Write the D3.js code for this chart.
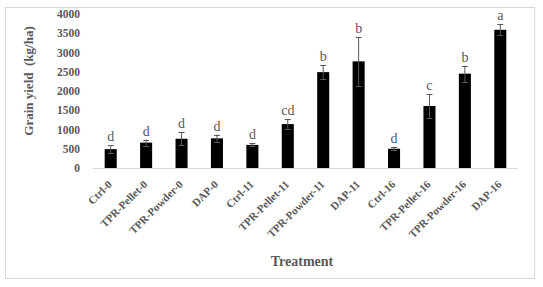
<!DOCTYPE html>
<html>
<head>
<meta charset="utf-8">
<script src="https://cdn.jsdelivr.net/npm/d3@7"></script>
<style>
  body { margin: 0; background: #fff; }
  text { font-family: "Liberation Serif", "Times New Roman", serif; }
</style>
</head>
<body>
<div id="chart"></div>
<script>
// treatments, mean grain yield, error and significance letters
var treatments = ['Ctrl-0', 'TPR-Pellet-0', 'TPR-Powder-0', 'DAP-0',
                  'Ctrl-11', 'TPR-Pellet-11', 'TPR-Powder-11', 'DAP-11',
                  'Ctrl-16', 'TPR-Pellet-16', 'TPR-Powder-16', 'DAP-16'];
var yieldMean = [490, 660, 760, 770, 600, 1140, 2490, 2770, 500, 1610, 2450, 3590];
var yieldErr  = [105, 80, 175, 100, 40, 120, 180, 640, 35, 310, 210, 140];
var letters   = ['d', 'd', 'd', 'd', 'd', 'cd', 'b', 'b', 'd', 'c', 'b', 'a'];
var yTicks    = [0, 500, 1000, 1500, 2000, 2500, 3000, 3500, 4000];

var width = 543, height = 287;
var margin = {top: 14, right: 25, bottom: 119, left: 93};

var svg = d3.select('#chart')
  .append('svg')
  .attr('width', width)
  .attr('height', height);

// chart border
svg.append('rect')
  .attr('x', 5.5).attr('y', 7.5)
  .attr('width', 529).attr('height', 271)
  .attr('fill', '#fff')
  .attr('stroke', '#d9d9d9');

var x = d3.scaleBand()
  .domain(treatments)
  .range([margin.left, width - margin.right])
  .paddingInner(0.66)
  .paddingOuter(0.33);

var y = d3.scaleLinear()
  .domain([0, 4000])
  .range([height - margin.bottom, margin.top]);

var cx = name => x(name) + x.bandwidth() / 2;

// y axis: labels only
var yAxis = svg.append('g')
  .attr('transform', 'translate(' + (margin.left - 13) + ',0)')
  .call(d3.axisLeft(y).tickValues(yTicks).tickFormat(d3.format('d')).tickSize(0).tickPadding(0));
yAxis.select('.domain').remove();
yAxis.selectAll('text')
  .attr('fill', '#595959')
  .style('font-size', '11.5px')
  .style('font-weight', 'bold');

// bars
svg.selectAll('rect.bar')
  .data(yieldMean)
  .enter()
  .append('rect')
  .attr('class', 'bar')
  .attr('x', (d, i) => x(treatments[i]))
  .attr('y', d => y(d))
  .attr('width', x.bandwidth())
  .attr('height', d => y(0) - y(d))
  .attr('fill', '#000');

// error bars
var err = svg.selectAll('g.err')
  .data(yieldMean)
  .enter()
  .append('g')
  .attr('class', 'err')
  .attr('stroke', '#595959')
  .attr('stroke-width', 1);

err.append('line')
  .attr('x1', (d, i) => cx(treatments[i]))
  .attr('x2', (d, i) => cx(treatments[i]))
  .attr('y1', (d, i) => y(d + yieldErr[i]))
  .attr('y2', (d, i) => y(d - yieldErr[i]));

[1, -1].forEach(s => {
  err.append('line')
    .attr('x1', (d, i) => cx(treatments[i]) - 3)
    .attr('x2', (d, i) => cx(treatments[i]) + 3)
    .attr('y1', (d, i) => Math.round(y(d + s * yieldErr[i])) + 0.5)
    .attr('y2', (d, i) => Math.round(y(d + s * yieldErr[i])) + 0.5);
});

// significance letters
svg.selectAll('text.letter')
  .data(letters)
  .enter()
  .append('text')
  .attr('class', 'letter')
  .attr('x', (d, i) => cx(treatments[i]))
  .attr('y', (d, i) => y(yieldMean[i] + yieldErr[i]) - 4)
  .attr('text-anchor', 'middle')
  .attr('fill', '#595959')
  .style('font-size', '14px')
  .text(d => d);

// x axis line
svg.append('line')
  .attr('x1', x.range()[0]).attr('x2', x.range()[1])
  .attr('y1', y(0) + 0.5).attr('y2', y(0) + 0.5)
  .attr('stroke', '#d9d9d9');

// rotated category labels
svg.selectAll('text.cat')
  .data(treatments)
  .enter()
  .append('text')
  .attr('class', 'cat')
  .attr('transform', d => 'translate(' + (cx(d) + 2) + ',' + (y(0) + 17) + ') rotate(-45)')
  .attr('text-anchor', 'end')
  .attr('fill', '#595959')
  .style('font-size', '11px')
  .style('font-weight', 'bold')
  .text(d => d);

// axis titles
svg.append('text')
  .attr('transform', 'translate(33,81) rotate(-90)')
  .attr('text-anchor', 'middle')
  .attr('fill', '#595959')
  .style('font-size', '13px')
  .style('font-weight', 'bold')
  .style('white-space', 'pre')
  .text('Grain yield  (kg/ha)');

svg.append('text')
  .attr('x', 302)
  .attr('y', 266)
  .attr('text-anchor', 'middle')
  .attr('fill', '#595959')
  .style('font-size', '14px')
  .style('font-weight', 'bold')
  .text('Treatment');
</script>
</body>
</html>
